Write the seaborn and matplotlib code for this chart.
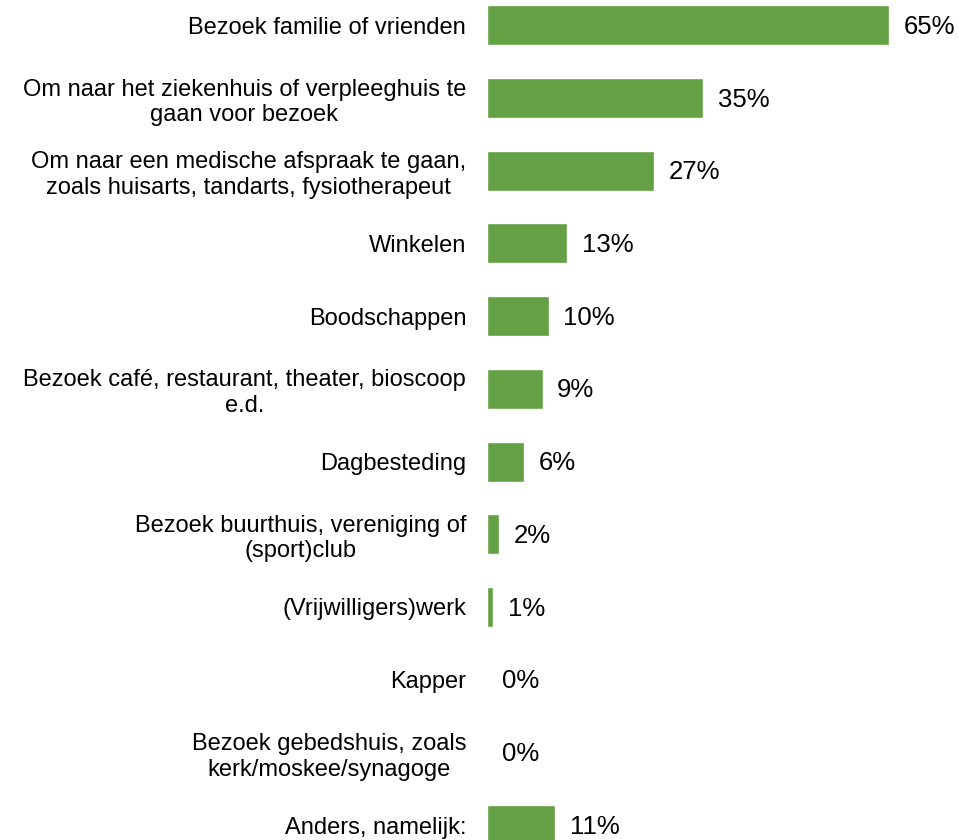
import pandas as pd
import seaborn as sns
import matplotlib
matplotlib.use('Agg')
import matplotlib.pyplot as plt

categories = [
    "Bezoek familie of vrienden",
    "Om naar het ziekenhuis of verpleeghuis te\ngaan voor bezoek",
    "Om naar een medische afspraak te gaan,\nzoals huisarts, tandarts, fysiotherapeut",
    "Winkelen",
    "Boodschappen",
    "Bezoek café, restaurant, theater, bioscoop\ne.d.",
    "Dagbesteding",
    "Bezoek buurthuis, vereniging of\n(sport)club",
    "(Vrijwilligers)werk",
    "Kapper",
    "Bezoek gebedshuis, zoals\nkerk/moskee/synagoge",
    "Anders, namelijk:",
]
values = [65, 35, 27, 13, 10, 9, 6, 2, 1, 0, 0, 11]
value_labels = ["65%", "35%", "27%", "13%", "10%", "9%", "6%", "2%", "1%", "0%", "0%", "11%"]

df = pd.DataFrame({"categorie": categories, "percentage": values})

sns.set_style("white")
plt.rcParams['font.family'] = ['Liberation Sans', 'DejaVu Sans']

fig = plt.figure(figsize=(9.59, 8.4), dpi=100)
ax = fig.add_axes([487 / 959, 0, 75 * 6.18 / 959, 1])

sns.barplot(data=df, x="percentage", y="categorie", orient="h",
            color="#64A044", saturation=1, width=0.55, ax=ax)

ax.set_xlim(0, 75)
ax.set_ylim(11.206, -0.348)

for i, (v, lab) in enumerate(zip(values, value_labels)):
    ax.annotate(lab, xy=(v, i), xytext=(10.5, -1.2), textcoords="offset points",
                va="center", ha="left", fontsize=18.5, color="black")

ax.set_xlabel("")
ax.set_ylabel("")
ax.set_xticks([])
ax.tick_params(axis="y", length=0, pad=15, labelsize=17, labelcolor="black")
for t in ax.get_yticklabels():
    t.set_multialignment("center")
    t.set_linespacing(1.22)
sns.despine(ax=ax, left=True, bottom=True)

fig.savefig("out.png", dpi=100)
